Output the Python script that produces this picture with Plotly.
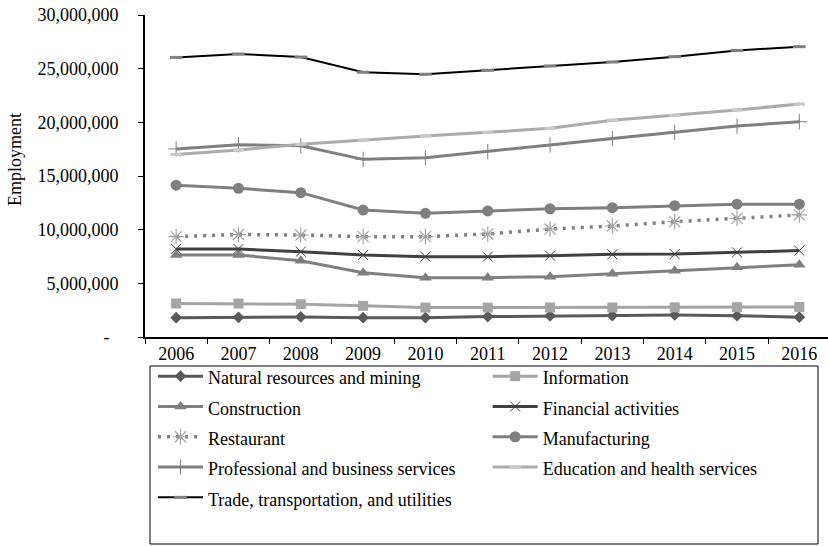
import plotly.graph_objects as go

# Employment by industry, 2006-2016
years = ["2006", "2007", "2008", "2009", "2010", "2011", "2012", "2013", "2014", "2015", "2016"]

natural_resources = [1.80e6, 1.83e6, 1.87e6, 1.80e6, 1.80e6, 1.90e6, 1.97e6, 2.00e6, 2.05e6, 1.98e6, 1.85e6]
information = [3.12e6, 3.12e6, 3.06e6, 2.90e6, 2.74e6, 2.74e6, 2.75e6, 2.75e6, 2.76e6, 2.78e6, 2.80e6]
construction = [7.64e6, 7.64e6, 7.11e6, 5.99e6, 5.53e6, 5.53e6, 5.62e6, 5.90e6, 6.18e6, 6.49e6, 6.73e6]
financial = [8.20e6, 8.20e6, 7.95e6, 7.64e6, 7.48e6, 7.48e6, 7.58e6, 7.70e6, 7.73e6, 7.88e6, 8.05e6]
restaurant = [9.35e6, 9.55e6, 9.50e6, 9.35e6, 9.35e6, 9.60e6, 10.06e6, 10.34e6, 10.74e6, 11.06e6, 11.37e6]
manufacturing = [14.14e6, 13.85e6, 13.45e6, 11.83e6, 11.52e6, 11.75e6, 11.95e6, 12.05e6, 12.23e6, 12.37e6, 12.37e6]
professional = [17.52e6, 17.90e6, 17.82e6, 16.55e6, 16.70e6, 17.27e6, 17.89e6, 18.50e6, 19.07e6, 19.65e6, 20.06e6]
education = [17.00e6, 17.42e6, 17.95e6, 18.35e6, 18.73e6, 19.07e6, 19.44e6, 20.20e6, 20.65e6, 21.15e6, 21.70e6]
trade = [26.05e6, 26.37e6, 26.08e6, 24.67e6, 24.48e6, 24.85e6, 25.25e6, 25.62e6, 26.12e6, 26.70e6, 27.05e6]

y_tick_vals = [0, 5e6, 10e6, 15e6, 20e6, 25e6, 30e6]
y_tick_text = ["-\u00a0\u00a0", "5,000,000", "10,000,000", "15,000,000", "20,000,000", "25,000,000", "30,000,000"]

FONT = "Liberation Serif, Times New Roman, serif"

# plot area in pixels (used to place the legend frame and axis title)
PLOT_L, PLOT_T, PLOT_W, PLOT_H = 145, 15, 683, 322


def px_x(px):
    return (px - PLOT_L) / PLOT_W


def px_y(py):
    return (PLOT_T + PLOT_H - py) / PLOT_H


def label(name):
    return '<span style="font-size:18px">' + name + "</span>"


series = [
    ("Natural resources and mining", natural_resources,
     dict(color="#595959", width=3), dict(symbol="diamond", size=9, color="#595959")),
    ("Information", information,
     dict(color="#A5A5A5", width=3), dict(symbol="square", size=10, color="#A5A5A5")),
    ("Construction", construction,
     dict(color="#7F7F7F", width=3), dict(symbol="triangle-up", size=11, color="#7F7F7F")),
    ("Financial activities", financial,
     dict(color="#404040", width=3),
     dict(symbol="x-thin-open", size=10, color="#404040", line=dict(color="#404040", width=1))),
    ("Restaurant", restaurant,
     dict(color="#7F7F7F", width=3.5, dash="3px,6px"),
     dict(symbol="asterisk-open", size=13, color="#A5A5A5", line=dict(color="#A5A5A5", width=1.2))),
    ("Manufacturing", manufacturing,
     dict(color="#7F7F7F", width=3), dict(symbol="circle", size=11, color="#7F7F7F")),
    ("Professional and business services", professional,
     dict(color="#7F7F7F", width=3),
     dict(symbol="cross-thin-open", size=11, color="#7F7F7F", line=dict(color="#7F7F7F", width=1))),
    ("Education and health services", education,
     dict(color="#ABABAB", width=3),
     dict(symbol="line-ew-open", size=8, color="#C8C8C8", line=dict(color="#C8C8C8", width=3))),
    ("Trade, transportation, and utilities", trade,
     dict(color="#000000", width=2),
     dict(symbol="line-ew-open", size=9, color="#808080", line=dict(color="#808080", width=3))),
]

fig = go.Figure()
for name, values, line, marker in series:
    fig.add_trace(go.Scatter(
        x=years, y=values, name=label(name), mode="lines+markers",
        line=line, marker=marker,
    ))

fig.update_layout(
    width=828, height=546, autosize=False,
    margin=dict(l=PLOT_L, r=828 - PLOT_L - PLOT_W, t=PLOT_T, b=546 - PLOT_T - PLOT_H),
    paper_bgcolor="white", plot_bgcolor="white",
    font=dict(family=FONT, size=18, color="black"),
    showlegend=True,
    legend=dict(
        orientation="h", x=px_x(150), xanchor="left", y=px_y(355), yanchor="top",
        bordercolor="rgba(255,255,255,0)", borderwidth=1, bgcolor="rgba(255,255,255,0)",
        font=dict(family=FONT, size=21, color="black"),
        entrywidth=0.49, entrywidthmode="fraction",
        itemwidth=45, indentation=2, traceorder="normal",
    ),
    shapes=[dict(
        type="rect", xref="paper", yref="paper",
        x0=px_x(150), x1=px_x(818), y0=px_y(366), y1=px_y(544),
        line=dict(color="black", width=1), fillcolor="rgba(0,0,0,0)",
    )],
    annotations=[dict(
        text="Employment", textangle=-90, xref="paper", yref="paper",
        x=px_x(15), y=px_y(160), xanchor="center", yanchor="middle",
        showarrow=False, font=dict(family=FONT, size=18, color="black"),
    )],
)

fig.update_xaxes(
    type="category", range=[-0.5, 10.46], tickson="boundaries",
    ticks="outside", ticklen=5, tickwidth=1, tickcolor="black",
    showline=True, linecolor="black", linewidth=1.5,
    showgrid=False, zeroline=False,
    tickfont=dict(family=FONT, size=18, color="black"),
)
fig.update_yaxes(
    range=[0, 30e6], tickvals=y_tick_vals, ticktext=y_tick_text,
    ticks="outside", ticklen=5, tickwidth=1, tickcolor="black",
    ticklabelstandoff=16,
    showline=True, linecolor="black", linewidth=2,
    showgrid=False, zeroline=False,
    tickfont=dict(family=FONT, size=18, color="black"),
)

fig.write_html("out.html")
